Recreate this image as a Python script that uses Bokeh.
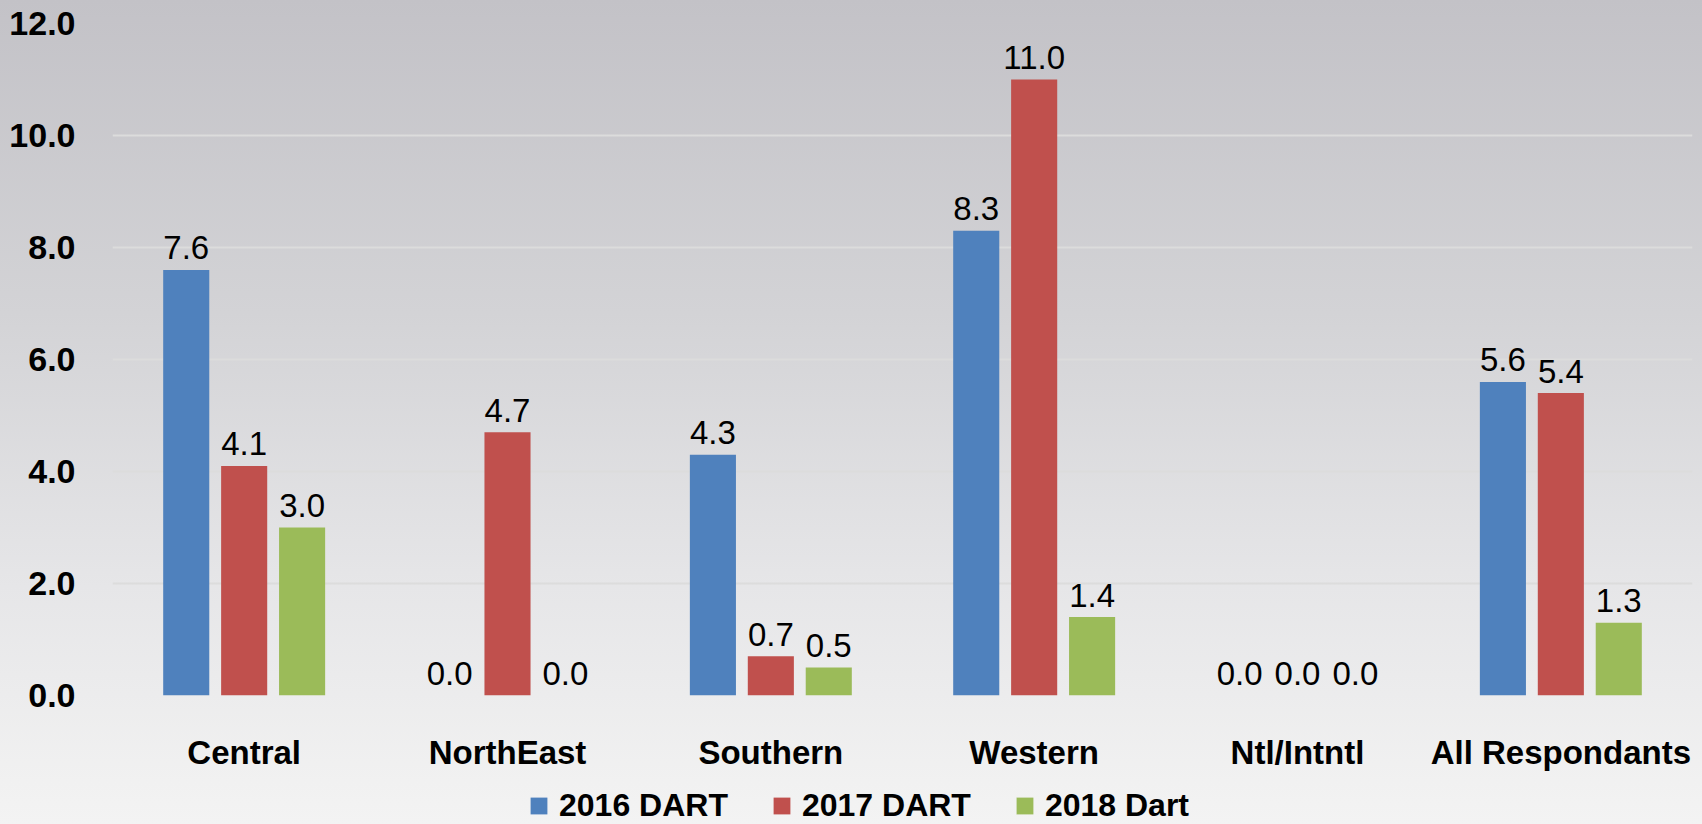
from bokeh.plotting import figure
from bokeh.layouts import column
from bokeh.models import ColumnDataSource, FactorRange, Range1d, FixedTicker, NumeralTickFormatter, Legend, LegendItem
from bokeh.transform import dodge
from bokeh.core.properties import value
from bokeh.embed import file_html
from bokeh.resources import INLINE

categories = ["Central", "NorthEast", "Southern", "Western", "Ntl/Intntl", "All Respondants"]
series_names = ["2016 DART", "2017 DART", "2018 Dart"]
v2016 = [7.6, 0.0, 4.3, 8.3, 0.0, 5.6]
v2017 = [4.1, 4.7, 0.7, 11.0, 0.0, 5.4]
v2018 = [3.0, 0.0, 0.5, 1.4, 0.0, 1.3]
y_ticks = [0, 2, 4, 6, 8, 10, 12]
colors = ["#4f81bd", "#c0504d", "#9bbb59"]

src = ColumnDataSource(dict(
    cat=categories, a=v2016, b=v2017, c=v2018,
    la=[f"{v:.1f}" for v in v2016],
    lb=[f"{v:.1f}" for v in v2017],
    lc=[f"{v:.1f}" for v in v2018],
))

W = 1702
H_MAIN = 782
H_LEG = 42

p = figure(x_range=FactorRange(*categories, range_padding=0), y_range=Range1d(0, 12),
           width=W, height=H_MAIN, output_backend="svg", toolbar_location=None,
           min_border_left=112, min_border_right=10, min_border_top=23, min_border_bottom=H_MAIN - 23 - 672)
p.styles = {"background": "linear-gradient(to bottom, #c3c2c7 0%, #d3d3d6 40%, #e6e6e8 75%, #f1f1f1 100%)"}
p.background_fill_color = None
p.border_fill_color = None
p.outline_line_color = None

offs = [-0.22, 0.0, 0.22]
for col, lab, off, color in zip(["a", "b", "c"], ["la", "lb", "lc"], offs, colors):
    p.vbar(x=dodge("cat", off, range=p.x_range), top=col, width=0.175, source=src,
           fill_color=color, line_color=None)
    p.text(x=dodge("cat", off, range=p.x_range), y=col, text=lab, source=src,
           text_align="center", text_baseline="alphabetic", y_offset=-22,
           text_font=value("Liberation Sans"), text_font_size="33px", text_color="#000000")

p.yaxis.ticker = FixedTicker(ticks=y_ticks)
p.yaxis.formatter = NumeralTickFormatter(format="0.0")
for ax in (p.xaxis[0], p.yaxis[0]):
    ax.axis_line_color = None
    ax.major_tick_line_color = None
    ax.minor_tick_line_color = None
    ax.major_label_text_font = "Liberation Sans"
    ax.major_label_text_font_style = "bold"
    ax.major_label_text_color = "#000000"
p.yaxis.major_label_text_font_size = "34px"
p.xaxis.major_label_text_font_size = "33px"
p.yaxis.major_label_standoff = 31
p.xaxis.major_label_standoff = 32

p.xgrid.grid_line_color = None
p.ygrid.ticker = FixedTicker(ticks=y_ticks)
p.ygrid.grid_line_color = "#dcdcdc"
p.ygrid.grid_line_width = 2

# legend strip below the chart
lg = figure(x_range=FactorRange(*categories), y_range=Range1d(0, 1),
            width=W, height=H_LEG, output_backend="svg", toolbar_location=None,
            min_border=0)
lg.styles = {"background": "linear-gradient(to bottom, #f1f1f1, #f3f3f3)"}
lg.background_fill_color = None
lg.border_fill_color = None
lg.outline_line_color = None
lg.axis.visible = False
lg.grid.visible = False
leg_renderers = []
for col, color in zip(["a", "b", "c"], colors):
    r = lg.vbar(x="cat", top=col, width=0.2, source=src, fill_color=color, line_color=None)
    r.visible = False
    leg_renderers.append(r)

legend = Legend(items=[LegendItem(label=n, renderers=[r]) for n, r in zip(series_names, leg_renderers)],
                orientation="horizontal", location=(416, 0),
                background_fill_alpha=0, border_line_color=None,
                label_text_font="Liberation Sans", label_text_font_style="bold",
                label_text_font_size="32px", label_text_color="#000000",
                glyph_width=21, glyph_height=21,
                label_standoff=10, spacing=43, padding=0, margin=0)
lg.add_layout(legend, "center")

layout = column(p, lg, spacing=0)
open("out.html", "w").write(file_html(layout, INLINE))
